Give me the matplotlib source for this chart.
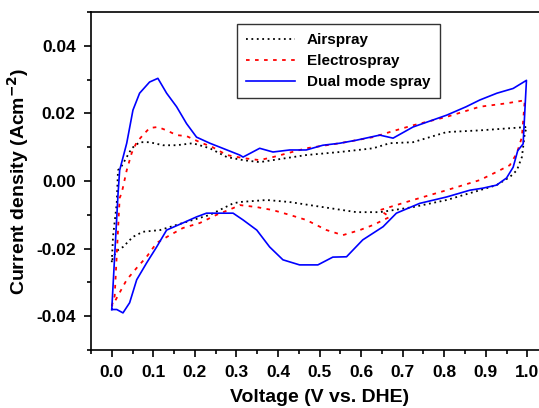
import numpy as np
import matplotlib.pyplot as plt
from matplotlib.ticker import MultipleLocator, FormatStrFormatter

plt.rcParams['font.family'] = ['Liberation Sans', 'DejaVu Sans']
plt.rcParams['font.weight'] = 'bold'

# Airspray loop (V, j): upper branch 0 -> 1, lower branch 1 -> 0
air_v = [0.0, 0.003, 0.012, 0.015, 0.024, 0.036, 0.048, 0.067, 0.091, 0.123, 0.156, 0.195,
         0.236, 0.277, 0.316, 0.356, 0.388, 0.468, 0.549, 0.629, 0.669, 0.725, 0.806, 0.886,
         0.966, 0.999, 0.994, 0.99, 0.987, 0.975, 0.958, 0.926, 0.886, 0.806, 0.725, 0.645,
         0.589, 0.508, 0.428, 0.373, 0.308, 0.292, 0.236, 0.171, 0.116, 0.075, 0.051, 0.027,
         0.015, 0.003, 0.0]
air_j = [-0.024, -0.0165, -0.0066, 0.0032, 0.0045, 0.0071, 0.0097, 0.0115, 0.0115, 0.0106,
         0.0106, 0.0112, 0.0097, 0.0071, 0.0062, 0.0056, 0.0062, 0.0077, 0.0086, 0.0097,
         0.0112, 0.0115, 0.0145, 0.015, 0.0157, 0.016, 0.0142, 0.010, 0.0071, 0.0032, 0.0012,
         -0.0012, -0.0027, -0.0056, -0.0077, -0.0092, -0.0092, -0.0077, -0.0062, -0.0056,
         -0.0062, -0.0066, -0.010, -0.0124, -0.0145, -0.015, -0.0165, -0.0195, -0.0204,
         -0.0224, -0.024]

# Electrospray loop
elec_v = [0.0, 0.007, 0.019, 0.024, 0.036, 0.048, 0.06, 0.075, 0.091, 0.111, 0.132, 0.156,
          0.18, 0.212, 0.243, 0.277, 0.316, 0.356, 0.388, 0.468, 0.549, 0.629, 0.669, 0.725,
          0.806, 0.886, 0.95, 0.994, 0.987, 0.982, 0.975, 0.958, 0.926, 0.886, 0.806, 0.725,
          0.645, 0.669, 0.629, 0.597, 0.556, 0.517, 0.468, 0.428, 0.388, 0.349, 0.308, 0.292,
          0.252, 0.212, 0.171, 0.14, 0.108, 0.084, 0.06, 0.036, 0.019, 0.007, 0.0]
elec_j = [-0.037, -0.034, -0.005, -0.0035, 0.0032, 0.0083, 0.0115, 0.0136, 0.0157, 0.016,
          0.015, 0.0136, 0.0133, 0.0115, 0.010, 0.0077, 0.0068, 0.0062, 0.0071, 0.0097,
          0.0112, 0.013, 0.0145, 0.0165, 0.019, 0.022, 0.023, 0.0239, 0.013, 0.011, 0.0083,
          0.0047, 0.0027, 0.0003, -0.0027, -0.0056, -0.0086, -0.0106, -0.013, -0.0145,
          -0.016, -0.0145, -0.0115, -0.010, -0.0086, -0.0077, -0.0071, -0.008, -0.010,
          -0.0124, -0.0139, -0.016, -0.0183, -0.0224, -0.0257, -0.0292, -0.033, -0.0357,
          -0.037]

# Dual mode spray loop
dual_v = [0.0, 0.015, 0.019, 0.036, 0.051, 0.067, 0.091, 0.111, 0.132, 0.156, 0.18, 0.204,
          0.236, 0.267, 0.308, 0.316, 0.356, 0.388, 0.428, 0.468, 0.508, 0.549, 0.589, 0.645,
          0.677, 0.725, 0.806, 0.853, 0.886, 0.927, 0.966, 0.998, 0.99, 0.977, 0.966, 0.95,
          0.926, 0.893, 0.862, 0.806, 0.741, 0.685, 0.669, 0.653, 0.604, 0.565, 0.532, 0.496,
          0.452, 0.412, 0.38, 0.349, 0.316, 0.292, 0.267, 0.228, 0.204, 0.171, 0.132, 0.108,
          0.084, 0.06, 0.043, 0.027, 0.012, 0.0]
dual_j = [-0.038, -0.004, 0.0032, 0.0112, 0.021, 0.026, 0.0293, 0.0304, 0.026, 0.022, 0.017,
          0.013, 0.0112, 0.0097, 0.0077, 0.0071, 0.0097, 0.0086, 0.0092, 0.0092, 0.0106,
          0.0112, 0.0121, 0.0136, 0.0127, 0.016, 0.0195, 0.022, 0.024, 0.026, 0.0274, 0.0298,
          0.011, 0.009, 0.0041, 0.0009, -0.0012, -0.0021, -0.0027, -0.0047, -0.0066, -0.0095,
          -0.0115, -0.0135, -0.0174, -0.0224, -0.0225, -0.0248, -0.0248, -0.0233, -0.0195,
          -0.0145, -0.0115, -0.0095, -0.0095, -0.0095, -0.0106, -0.0124, -0.0145, -0.0195,
          -0.0242, -0.0292, -0.036, -0.039, -0.038, -0.038]

fig = plt.figure(figsize=(5.39, 4.08), dpi=100)
ax = fig.add_axes([0.1688, 0.142, 0.848, 0.8284])

ax.plot(air_v, air_j, color='black', linestyle=(0, (1, 2)), lw=1.3, label='Airspray')
ax.plot(elec_v, elec_j, color='red', linestyle=(0, (2, 3)), lw=1.3, label='Electrospray')
ax.plot(dual_v, dual_j, color='blue', lw=1.2, label='Dual mode spray')

ax.set_xlim(-0.05, 1.05)
ax.set_ylim(-0.05, 0.05)
ax.xaxis.set_major_locator(MultipleLocator(0.1))
ax.xaxis.set_minor_locator(MultipleLocator(0.05))
ax.yaxis.set_major_locator(MultipleLocator(0.02))
ax.yaxis.set_minor_locator(MultipleLocator(0.01))
ax.xaxis.set_major_formatter(FormatStrFormatter('%.1f'))
ax.yaxis.set_major_formatter(FormatStrFormatter('%.2f'))
ax.tick_params(which='major', direction='out', length=5, width=1.2, labelsize=12.5, pad=6)
ax.tick_params(which='minor', direction='out', length=3, width=1.2)
for s in ax.spines.values():
    s.set_linewidth(1.2)

ax.set_xlabel('Voltage (V vs. DHE)', fontsize=14, fontweight='bold', labelpad=6)
ax.set_ylabel('Current density (Acm$^{\\mathbf{-2}}$)', fontsize=14, fontweight='bold', labelpad=4)

leg = ax.legend(loc='upper left', bbox_to_anchor=(0.319, 0.9645), fontsize=11,
                frameon=True, fancybox=False, edgecolor='black', handlelength=3.2,
                borderpad=0.6, labelspacing=0.45, borderaxespad=0)
leg.get_frame().set_linewidth(1.0)

fig.savefig('out.png', dpi=100)
